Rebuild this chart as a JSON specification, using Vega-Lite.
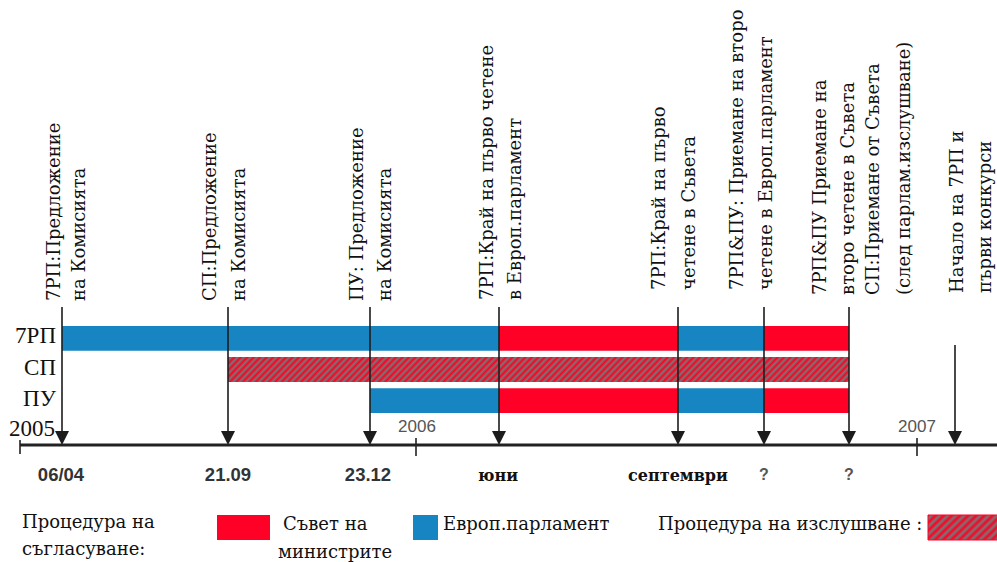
{
  "$schema": "https://vega.github.io/schema/vega-lite/v6.json",
  "width": 997,
  "height": 562,
  "autosize": "none",
  "padding": 0,
  "background": "white",
  "config": {"view": {"stroke": null}},
  "datasets": {
    "segments": [
      {"lane": "7РП", "from": 62, "to": 499, "body": "Европ.парламент"},
      {"lane": "7РП", "from": 499, "to": 678, "body": "Съвет на министрите"},
      {"lane": "7РП", "from": 678, "to": 764, "body": "Европ.парламент"},
      {"lane": "7РП", "from": 764, "to": 849, "body": "Съвет на министрите"},
      {"lane": "СП", "from": 228, "to": 849, "body": "изслушване"},
      {"lane": "ПУ", "from": 370, "to": 499, "body": "Европ.парламент"},
      {"lane": "ПУ", "from": 499, "to": 678, "body": "Съвет на министрите"},
      {"lane": "ПУ", "from": 678, "to": 764, "body": "Европ.парламент"},
      {"lane": "ПУ", "from": 764, "to": 849, "body": "Съвет на министрите"}
    ],
    "lanes": [{"lane": "7РП"}, {"lane": "СП"}, {"lane": "ПУ"}],
    "events": [
      {"pos": 62, "top": 307},
      {"pos": 228, "top": 307},
      {"pos": 370, "top": 307},
      {"pos": 499, "top": 307},
      {"pos": 678, "top": 307},
      {"pos": 764, "top": 307},
      {"pos": 849, "top": 307},
      {"pos": 955, "top": 345}
    ],
    "captions": [
      {"pos": 55, "base": 301, "text": "7РП:Предложение"},
      {"pos": 80, "base": 301, "text": "на Комисията"},
      {"pos": 211, "base": 301, "text": "СП:Предложение"},
      {"pos": 240, "base": 301, "text": "на Комисията"},
      {"pos": 358, "base": 301, "text": "ПУ: Предложение"},
      {"pos": 386, "base": 301, "text": "на Комисията"},
      {"pos": 488, "base": 300, "text": "7РП:Край на първо четене"},
      {"pos": 516, "base": 300, "text": "в Европ.парламент"},
      {"pos": 660, "base": 290, "text": "7РП:Край на първо"},
      {"pos": 690, "base": 290, "text": "четене в Съвета"},
      {"pos": 738, "base": 290, "text": "7РП&ПУ: Приемане на второ"},
      {"pos": 767, "base": 290, "text": "четене в Европ.парламент"},
      {"pos": 821, "base": 295, "text": "7РП&ПУ Приемане на"},
      {"pos": 849, "base": 295, "text": "второ четене в Съвета"},
      {"pos": 874, "base": 295, "text": "СП:Приемане от Съвета"},
      {"pos": 905, "base": 295, "text": "(след парлам.изслушване)"},
      {"pos": 958, "base": 293, "text": "Начало на 7РП и"},
      {"pos": 986, "base": 293, "text": "първи конкурси"}
    ],
    "axisline": [{"from": 20, "to": 997, "at": 445}],
    "ticks": [
      {"pos": 20, "top": 440, "bottom": 454},
      {"pos": 416, "top": 438, "bottom": 456},
      {"pos": 917, "top": 438, "bottom": 456}
    ],
    "years": [
      {"pos": 55, "at": 429, "text": "2005"}
    ],
    "greyYears": [
      {"pos": 417, "at": 427, "text": "2006"},
      {"pos": 917, "at": 427, "text": "2007"}
    ],
    "dates": [
      {"pos": 61, "at": 475, "text": "06/04"},
      {"pos": 228, "at": 475, "text": "21.09"},
      {"pos": 368, "at": 475, "text": "23.12"}
    ],
    "words": [
      {"pos": 498, "at": 476, "text": "юни"},
      {"pos": 678, "at": 476, "text": "септември"}
    ],
    "unknown": [
      {"pos": 764, "at": 475, "text": "?"},
      {"pos": 849, "at": 475, "text": "?"}
    ],
    "swatches": [
      {"from": 217, "to": 270, "top": 515, "bottom": 540, "body": "Съвет на министрите"},
      {"from": 413, "to": 438, "top": 515, "bottom": 540, "body": "Европ.парламент"}
    ],
    "hatchSwatch": [{"from": 928, "to": 1000, "top": 515, "bottom": 540}],
    "legendText": [
      {"pos": 22, "at": 523, "text": "Процедура на"},
      {"pos": 22, "at": 550, "text": "съгласуване:"},
      {"pos": 283, "at": 525, "text": "Съвет на"},
      {"pos": 278, "at": 553, "text": "министрите"},
      {"pos": 443, "at": 525, "text": "Европ.парламент"},
      {"pos": 658, "at": 525, "text": "Процедура на изслушване :"}
    ]
  },
  "resolve": {"scale": {"y": "independent"}},
  "layer": [
    {
      "layer": [
        {
          "data": {"name": "segments"},
          "transform": [{"filter": "datum.body !== 'изслушване'"}],
          "mark": {"type": "bar"},
          "encoding": {
            "x": {"field": "from", "type": "quantitative", "scale": {"domain": [0, 997], "nice": false, "zero": false}, "axis": null},
            "x2": {"field": "to"},
            "y": {"field": "lane", "type": "nominal", "scale": {"domain": ["7РП", "СП", "ПУ"], "range": [326, 413], "paddingInner": 0.2, "paddingOuter": 0}, "axis": null},
            "color": {"field": "body", "type": "nominal", "scale": {"domain": ["Съвет на министрите", "Европ.парламент"], "range": ["#ff0026", "#1785c2"]}, "legend": null}
          }
        },
        {
          "data": {"name": "segments"},
          "transform": [{"filter": "datum.body === 'изслушване'"}],
          "mark": {
            "type": "bar",
            "color": {
              "gradient": "linear", "x1": 0, "y1": 0, "x2": 1.04, "y2": 0.0401,
              "stops": [
                {"offset":0,"color":"#f02"},{"offset":0.005,"color":"#777"},{"offset":0.01,"color":"#f02"},{"offset":0.015,"color":"#777"},{"offset":0.02,"color":"#f02"},{"offset":0.025,"color":"#777"},{"offset":0.03,"color":"#f02"},{"offset":0.035,"color":"#777"},{"offset":0.04,"color":"#f02"},{"offset":0.045,"color":"#777"},
                {"offset":0.05,"color":"#f02"},{"offset":0.055,"color":"#777"},{"offset":0.06,"color":"#f02"},{"offset":0.065,"color":"#777"},{"offset":0.07,"color":"#f02"},{"offset":0.075,"color":"#777"},{"offset":0.08,"color":"#f02"},{"offset":0.085,"color":"#777"},{"offset":0.09,"color":"#f02"},{"offset":0.095,"color":"#777"},
                {"offset":0.1,"color":"#f02"},{"offset":0.105,"color":"#777"},{"offset":0.11,"color":"#f02"},{"offset":0.115,"color":"#777"},{"offset":0.12,"color":"#f02"},{"offset":0.125,"color":"#777"},{"offset":0.13,"color":"#f02"},{"offset":0.135,"color":"#777"},{"offset":0.14,"color":"#f02"},{"offset":0.145,"color":"#777"},
                {"offset":0.15,"color":"#f02"},{"offset":0.155,"color":"#777"},{"offset":0.16,"color":"#f02"},{"offset":0.165,"color":"#777"},{"offset":0.17,"color":"#f02"},{"offset":0.175,"color":"#777"},{"offset":0.18,"color":"#f02"},{"offset":0.185,"color":"#777"},{"offset":0.19,"color":"#f02"},{"offset":0.195,"color":"#777"},
                {"offset":0.2,"color":"#f02"},{"offset":0.205,"color":"#777"},{"offset":0.21,"color":"#f02"},{"offset":0.215,"color":"#777"},{"offset":0.22,"color":"#f02"},{"offset":0.225,"color":"#777"},{"offset":0.23,"color":"#f02"},{"offset":0.235,"color":"#777"},{"offset":0.24,"color":"#f02"},{"offset":0.245,"color":"#777"},
                {"offset":0.25,"color":"#f02"},{"offset":0.255,"color":"#777"},{"offset":0.26,"color":"#f02"},{"offset":0.265,"color":"#777"},{"offset":0.27,"color":"#f02"},{"offset":0.275,"color":"#777"},{"offset":0.28,"color":"#f02"},{"offset":0.285,"color":"#777"},{"offset":0.29,"color":"#f02"},{"offset":0.295,"color":"#777"},
                {"offset":0.3,"color":"#f02"},{"offset":0.305,"color":"#777"},{"offset":0.31,"color":"#f02"},{"offset":0.315,"color":"#777"},{"offset":0.32,"color":"#f02"},{"offset":0.325,"color":"#777"},{"offset":0.33,"color":"#f02"},{"offset":0.335,"color":"#777"},{"offset":0.34,"color":"#f02"},{"offset":0.345,"color":"#777"},
                {"offset":0.35,"color":"#f02"},{"offset":0.355,"color":"#777"},{"offset":0.36,"color":"#f02"},{"offset":0.365,"color":"#777"},{"offset":0.37,"color":"#f02"},{"offset":0.375,"color":"#777"},{"offset":0.38,"color":"#f02"},{"offset":0.385,"color":"#777"},{"offset":0.39,"color":"#f02"},{"offset":0.395,"color":"#777"},
                {"offset":0.4,"color":"#f02"},{"offset":0.405,"color":"#777"},{"offset":0.41,"color":"#f02"},{"offset":0.415,"color":"#777"},{"offset":0.42,"color":"#f02"},{"offset":0.425,"color":"#777"},{"offset":0.43,"color":"#f02"},{"offset":0.435,"color":"#777"},{"offset":0.44,"color":"#f02"},{"offset":0.445,"color":"#777"},
                {"offset":0.45,"color":"#f02"},{"offset":0.455,"color":"#777"},{"offset":0.46,"color":"#f02"},{"offset":0.465,"color":"#777"},{"offset":0.47,"color":"#f02"},{"offset":0.475,"color":"#777"},{"offset":0.48,"color":"#f02"},{"offset":0.485,"color":"#777"},{"offset":0.49,"color":"#f02"},{"offset":0.495,"color":"#777"},
                {"offset":0.5,"color":"#f02"},{"offset":0.505,"color":"#777"},{"offset":0.51,"color":"#f02"},{"offset":0.515,"color":"#777"},{"offset":0.52,"color":"#f02"},{"offset":0.525,"color":"#777"},{"offset":0.53,"color":"#f02"},{"offset":0.535,"color":"#777"},{"offset":0.54,"color":"#f02"},{"offset":0.545,"color":"#777"},
                {"offset":0.55,"color":"#f02"},{"offset":0.555,"color":"#777"},{"offset":0.56,"color":"#f02"},{"offset":0.565,"color":"#777"},{"offset":0.57,"color":"#f02"},{"offset":0.575,"color":"#777"},{"offset":0.58,"color":"#f02"},{"offset":0.585,"color":"#777"},{"offset":0.59,"color":"#f02"},{"offset":0.595,"color":"#777"},
                {"offset":0.6,"color":"#f02"},{"offset":0.605,"color":"#777"},{"offset":0.61,"color":"#f02"},{"offset":0.615,"color":"#777"},{"offset":0.62,"color":"#f02"},{"offset":0.625,"color":"#777"},{"offset":0.63,"color":"#f02"},{"offset":0.635,"color":"#777"},{"offset":0.64,"color":"#f02"},{"offset":0.645,"color":"#777"},
                {"offset":0.65,"color":"#f02"},{"offset":0.655,"color":"#777"},{"offset":0.66,"color":"#f02"},{"offset":0.665,"color":"#777"},{"offset":0.67,"color":"#f02"},{"offset":0.675,"color":"#777"},{"offset":0.68,"color":"#f02"},{"offset":0.685,"color":"#777"},{"offset":0.69,"color":"#f02"},{"offset":0.695,"color":"#777"},
                {"offset":0.7,"color":"#f02"},{"offset":0.705,"color":"#777"},{"offset":0.71,"color":"#f02"},{"offset":0.715,"color":"#777"},{"offset":0.72,"color":"#f02"},{"offset":0.725,"color":"#777"},{"offset":0.73,"color":"#f02"},{"offset":0.735,"color":"#777"},{"offset":0.74,"color":"#f02"},{"offset":0.745,"color":"#777"},
                {"offset":0.75,"color":"#f02"},{"offset":0.755,"color":"#777"},{"offset":0.76,"color":"#f02"},{"offset":0.765,"color":"#777"},{"offset":0.77,"color":"#f02"},{"offset":0.775,"color":"#777"},{"offset":0.78,"color":"#f02"},{"offset":0.785,"color":"#777"},{"offset":0.79,"color":"#f02"},{"offset":0.795,"color":"#777"},
                {"offset":0.8,"color":"#f02"},{"offset":0.805,"color":"#777"},{"offset":0.81,"color":"#f02"},{"offset":0.815,"color":"#777"},{"offset":0.82,"color":"#f02"},{"offset":0.825,"color":"#777"},{"offset":0.83,"color":"#f02"},{"offset":0.835,"color":"#777"},{"offset":0.84,"color":"#f02"},{"offset":0.845,"color":"#777"},
                {"offset":0.85,"color":"#f02"},{"offset":0.855,"color":"#777"},{"offset":0.86,"color":"#f02"},{"offset":0.865,"color":"#777"},{"offset":0.87,"color":"#f02"},{"offset":0.875,"color":"#777"},{"offset":0.88,"color":"#f02"},{"offset":0.885,"color":"#777"},{"offset":0.89,"color":"#f02"},{"offset":0.895,"color":"#777"},
                {"offset":0.9,"color":"#f02"},{"offset":0.905,"color":"#777"},{"offset":0.91,"color":"#f02"},{"offset":0.915,"color":"#777"},{"offset":0.92,"color":"#f02"},{"offset":0.925,"color":"#777"},{"offset":0.93,"color":"#f02"},{"offset":0.935,"color":"#777"},{"offset":0.94,"color":"#f02"},{"offset":0.945,"color":"#777"},
                {"offset":0.95,"color":"#f02"},{"offset":0.955,"color":"#777"},{"offset":0.96,"color":"#f02"},{"offset":0.965,"color":"#777"},{"offset":0.97,"color":"#f02"},{"offset":0.975,"color":"#777"},{"offset":0.98,"color":"#f02"},{"offset":0.985,"color":"#777"},{"offset":0.99,"color":"#f02"},{"offset":0.995,"color":"#777"},
                {"offset":1,"color":"#f02"}
              ]
            }
          },
          "encoding": {
            "x": {"field": "from", "type": "quantitative"},
            "x2": {"field": "to"},
            "y": {"field": "lane", "type": "nominal"}
          }
        },
        {
          "data": {"name": "lanes"},
          "mark": {"type": "text", "align": "right", "baseline": "middle", "font": "Liberation Serif", "fontSize": 23, "dy": -2, "color": "#111"},
          "encoding": {
            "x": {"datum": 56, "type": "quantitative"},
            "y": {"field": "lane", "type": "nominal"},
            "text": {"field": "lane"}
          }
        }
      ]
    },
    {
      "layer": [
        {
          "data": {"name": "axisline"},
          "mark": {"type": "rule", "strokeWidth": 2.8, "color": "#222"},
          "encoding": {
            "x": {"field": "from", "type": "quantitative", "scale": {"domain": [0, 997], "nice": false, "zero": false}, "axis": null},
            "x2": {"field": "to"},
            "y": {"field": "at", "type": "quantitative", "scale": {"domain": [0, 562], "reverse": true, "nice": false, "zero": false}, "axis": null}
          }
        },
        {
          "data": {"name": "ticks"},
          "mark": {"type": "rule", "strokeWidth": 1.6, "color": "#222"},
          "encoding": {
            "x": {"field": "pos", "type": "quantitative"},
            "y": {"field": "top", "type": "quantitative"},
            "y2": {"field": "bottom"}
          }
        },
        {
          "data": {"name": "events"},
          "mark": {"type": "rule", "strokeWidth": 1.6, "color": "#1c1c1c"},
          "encoding": {
            "x": {"field": "pos", "type": "quantitative"},
            "y": {"field": "top", "type": "quantitative"},
            "y2": {"datum": 440}
          }
        },
        {
          "data": {"name": "events"},
          "mark": {"type": "point", "shape": "M-1,-1L1,-1L0,1Z", "size": 196, "filled": true, "opacity": 1, "strokeWidth": 0, "color": "#1c1c1c"},
          "encoding": {
            "x": {"field": "pos", "type": "quantitative"},
            "y": {"datum": 438, "type": "quantitative"}
          }
        },
        {
          "data": {"name": "captions"},
          "mark": {"type": "text", "angle": 270, "align": "left", "baseline": "middle", "font": "DejaVu Serif", "fontSize": 18, "color": "#111"},
          "encoding": {
            "x": {"field": "pos", "type": "quantitative"},
            "y": {"field": "base", "type": "quantitative"},
            "text": {"field": "text"}
          }
        },
        {
          "data": {"name": "years"},
          "mark": {"type": "text", "align": "right", "baseline": "middle", "font": "Liberation Serif", "fontSize": 23, "color": "#111"},
          "encoding": {
            "x": {"field": "pos", "type": "quantitative"},
            "y": {"field": "at", "type": "quantitative"},
            "text": {"field": "text"}
          }
        },
        {
          "data": {"name": "greyYears"},
          "mark": {"type": "text", "align": "center", "baseline": "middle", "font": "Liberation Sans", "fontSize": 17, "color": "#555"},
          "encoding": {
            "x": {"field": "pos", "type": "quantitative"},
            "y": {"field": "at", "type": "quantitative"},
            "text": {"field": "text"}
          }
        },
        {
          "data": {"name": "dates"},
          "mark": {"type": "text", "align": "center", "baseline": "middle", "font": "Liberation Sans", "fontWeight": "bold", "fontSize": 18.5, "color": "#333"},
          "encoding": {
            "x": {"field": "pos", "type": "quantitative"},
            "y": {"field": "at", "type": "quantitative"},
            "text": {"field": "text"}
          }
        },
        {
          "data": {"name": "unknown"},
          "mark": {"type": "text", "align": "center", "baseline": "middle", "font": "Liberation Sans", "fontWeight": "bold", "fontSize": 16, "color": "#555"},
          "encoding": {
            "x": {"field": "pos", "type": "quantitative"},
            "y": {"field": "at", "type": "quantitative"},
            "text": {"field": "text"}
          }
        },
        {
          "data": {"name": "words"},
          "mark": {"type": "text", "align": "center", "baseline": "middle", "font": "DejaVu Serif", "fontWeight": "bold", "fontSize": 16, "color": "#111"},
          "encoding": {
            "x": {"field": "pos", "type": "quantitative"},
            "y": {"field": "at", "type": "quantitative"},
            "text": {"field": "text"}
          }
        },
        {
          "data": {"name": "swatches"},
          "mark": {"type": "rect"},
          "encoding": {
            "x": {"field": "from", "type": "quantitative"},
            "x2": {"field": "to"},
            "y": {"field": "top", "type": "quantitative"},
            "y2": {"field": "bottom"},
            "color": {"field": "body", "type": "nominal", "scale": {"domain": ["Съвет на министрите", "Европ.парламент"], "range": ["#ff0026", "#1785c2"]}, "legend": null}
          }
        },
        {
          "data": {"name": "hatchSwatch"},
          "mark": {
            "type": "rect",
            "stroke": "#ff0026",
            "strokeWidth": 1,
            "fill": {
              "gradient": "linear", "x1": 0, "y1": 0, "x2": 1.204, "y2": 0.433,
              "stops": [
                {"offset":0,"color":"#f02"},{"offset":0.0417,"color":"#777"},{"offset":0.0833,"color":"#f02"},{"offset":0.125,"color":"#777"},{"offset":0.1667,"color":"#f02"},{"offset":0.2083,"color":"#777"},{"offset":0.25,"color":"#f02"},{"offset":0.2917,"color":"#777"},{"offset":0.3333,"color":"#f02"},{"offset":0.375,"color":"#777"},{"offset":0.4167,"color":"#f02"},{"offset":0.4583,"color":"#777"},{"offset":0.5,"color":"#f02"},{"offset":0.5417,"color":"#777"},{"offset":0.5833,"color":"#f02"},{"offset":0.625,"color":"#777"},{"offset":0.6667,"color":"#f02"},{"offset":0.7083,"color":"#777"},{"offset":0.75,"color":"#f02"},{"offset":0.7917,"color":"#777"},{"offset":0.8333,"color":"#f02"},{"offset":0.875,"color":"#777"},{"offset":0.9167,"color":"#f02"},{"offset":0.9583,"color":"#777"},{"offset":1,"color":"#f02"}
              ]
            }
          },
          "encoding": {
            "x": {"field": "from", "type": "quantitative"},
            "x2": {"field": "to"},
            "y": {"field": "top", "type": "quantitative"},
            "y2": {"field": "bottom"}
          }
        },
        {
          "data": {"name": "legendText"},
          "mark": {"type": "text", "align": "left", "baseline": "middle", "font": "DejaVu Serif", "fontSize": 18, "color": "#111"},
          "encoding": {
            "x": {"field": "pos", "type": "quantitative"},
            "y": {"field": "at", "type": "quantitative"},
            "text": {"field": "text"}
          }
        }
      ]
    }
  ]
}
